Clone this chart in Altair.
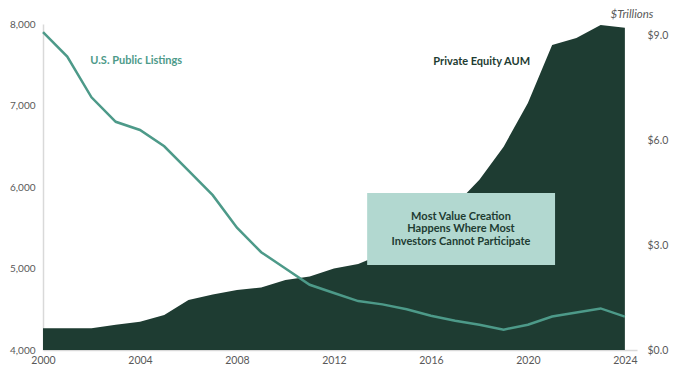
import altair as alt
import pandas as pd

years = list(range(2000, 2025))
listings = [7900, 7600, 7100, 6800, 6700, 6500, 6200, 5900, 5500, 5200, 5000, 4800,
            4700, 4600, 4560, 4500, 4420, 4360, 4310, 4250, 4310, 4410, 4460, 4510, 4410]
pe_aum = [0.62, 0.62, 0.62, 0.72, 0.81, 1.00, 1.43, 1.59, 1.72, 1.79, 2.00, 2.10,
          2.33, 2.46, 2.75, 3.10, 3.55, 4.15, 4.87, 5.82, 7.07, 8.73, 8.93, 9.30, 9.22]

box_text = ["Most Value Creation", "Happens Where Most", "Investors Cannot Participate"]

df = pd.DataFrame({"year": years, "listings": listings, "aum": pe_aum})

AREA = "#1e3c32"
LINE = "#4d9a89"
BOX = "#b2d8d0"
GREY = "#595959"
FONT = "Lato"

xscale = alt.Scale(domain=[2000, 2024.5], nice=False, zero=False)
xaxis = alt.Axis(values=list(range(2000, 2025, 4)), format="d", grid=False, ticks=False,
                 domainColor="#d9d9d9", domainWidth=1.5, labelColor=GREY, labelFontSize=10.5,
                 labelFont=FONT, labelPadding=5, title=None, labelFlush=False)
rscale = alt.Scale(domain=[0, 9.33], nice=False, zero=True)
lscale = alt.Scale(domain=[4000, 8000], nice=False, zero=False)
raxis = alt.Axis(orient="right", values=[0, 3, 6, 9], format="$.1f", grid=False,
                 ticks=False, domain=False, labelColor=GREY, labelFontSize=10.5,
                 labelFont=FONT, labelPadding=10, title="$Trillions", titleAngle=0,
                 titleAlign="left", titleBaseline="middle", titleX=-27, titleY=-10,
                 titleFontStyle="italic", titleFontWeight="normal", titleFont=FONT,
                 titleFontSize=11.5, titleColor=GREY)
laxis = alt.Axis(orient="left", values=[4000, 5000, 6000, 7000, 8000], format=",.0f",
                 grid=False, ticks=False, domain=True, domainColor="#d9d9d9",
                 domainWidth=1.5, labelColor=GREY, labelFontSize=10, labelFont=FONT,
                 labelPadding=8, title=None)

X = lambda f: alt.X(f, scale=xscale, axis=xaxis)
YR = lambda f: alt.Y(f, scale=rscale, axis=raxis)
YL = lambda f: alt.Y(f, scale=lscale, axis=laxis)

area = alt.Chart(df).mark_area(color=AREA, opacity=1).encode(x=X("year:Q"), y=YR("aum:Q"))

box_df = pd.DataFrame({"x0": [2013.37], "x1": [2021.12], "y0": [2.43], "y1": [4.49]})
box = alt.Chart(box_df).mark_rect(color=BOX).encode(
    x=X("x0:Q"), x2="x1:Q", y=YR("y0:Q"), y2="y1:Q",
)
boxt_df = pd.DataFrame({"x": [2017.24] * 3, "y": [3.81, 3.45, 3.09], "t": box_text})
boxt = alt.Chart(boxt_df).mark_text(color=AREA, font=FONT, fontSize=11, fontWeight="bold",
                                    align="center", baseline="middle").encode(
    x=X("x:Q"), y=YR("y:Q"), text="t",
)
pe_lab = alt.Chart(pd.DataFrame({"x": [2016.1], "y": [8.25], "t": ["Private Equity AUM"]})).mark_text(
    color=AREA, font=FONT, fontSize=11, fontWeight="bold", align="left", baseline="middle").encode(
    x=X("x:Q"), y=YR("y:Q"), text="t",
)

line = alt.Chart(df).mark_line(color=LINE, strokeWidth=2.5).encode(x=X("year:Q"), y=YL("listings:Q"))
ls_lab = alt.Chart(pd.DataFrame({"x": [2001.95], "y": [7545], "t": ["U.S. Public Listings"]})).mark_text(
    color=LINE, font=FONT, fontSize=11, fontWeight="bold", align="left", baseline="middle").encode(
    x=X("x:Q"), y=YL("y:Q"), text="t",
)

chart = alt.layer(
    alt.layer(area, box, boxt, pe_lab),
    alt.layer(line, ls_lab),
).resolve_scale(y="independent").properties(
    width=594, height=326,
    autosize=alt.AutoSizeParams(type="none"),
    padding={"left": 35, "top": 16, "right": 33, "bottom": 27},
).configure_view(stroke=None)

chart.save("out.html", embed_options={"renderer": "svg", "actions": False})
